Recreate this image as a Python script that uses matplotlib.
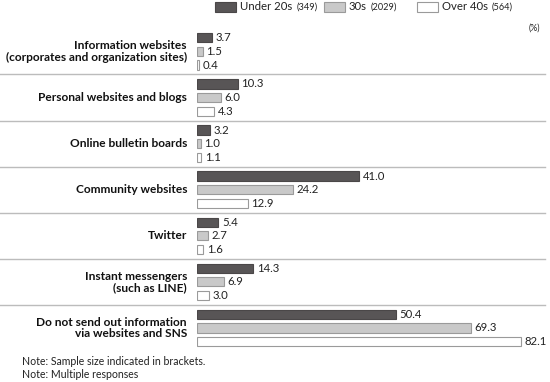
import matplotlib
matplotlib.use("Agg")
import matplotlib.pyplot as plt
from matplotlib.patches import Rectangle
from matplotlib.lines import Line2D

categories = [
    "Information websites\n(corporates and organization sites)",
    "Personal websites and blogs",
    "Online bulletin boards",
    "Community websites",
    "Twitter",
    "Instant messengers\n(such as LINE)",
    "Do not send out information\nvia websites and SNS",
]
series_names = ["Under 20s", "30s", "Over 40s"]
series_n = ["(349)", "(2029)", "(564)"]
under20 = [3.7, 10.3, 3.2, 41.0, 5.4, 14.3, 50.4]
thirties = [1.5, 6.0, 1.0, 24.2, 2.7, 6.9, 69.3]
over40 = [0.4, 4.3, 1.1, 12.9, 1.6, 3.0, 82.1]
notes = ["Note: Sample size indicated in brackets.", "Note: Multiple responses"]

plt.rcParams['font.family'] = ['Lato', 'DejaVu Sans']

W, H = 550, 382
fig = plt.figure(figsize=(W / 100, H / 100), dpi=100)

x0 = 197
scale = 3.95
top_px, bot_px = 28.4, 351
ax = fig.add_axes([x0 / W, 1 - bot_px / H, 1 - x0 / W, (bot_px - top_px) / H])
ax.set_xlim(0, (W - x0) / scale)
n = len(categories)
ax.set_ylim(n, 0)
ax.axis('off')

faces = ['#585556', '#c9c9c9', '#ffffff']
edges = ['#4a4748', '#9a9a9a', '#9a9a9a']
data = [under20, thirties, over40]
offsets = [0.205, 0.5, 0.795]
bh = 0.2

for s, vals in enumerate(data):
    ys = [i + offsets[s] for i in range(n)]
    ax.barh(ys, vals, height=bh, color=faces[s], edgecolor=edges[s], linewidth=0.8)
    for y, v in zip(ys, vals):
        ax.text(v + 0.9, y, f"{v:.1f}", va='center', ha='left', fontsize=8.2, color='#222222')

for i, cat in enumerate(categories):
    fig.text(187 / W, 1 - (top_px + (i + 0.5) * (bot_px - top_px) / n) / H, cat,
             ha='right', va='center', fontsize=8.6, fontweight='bold', linespacing=1.05,
             color='#111111')

for i in range(1, n):
    ypx = top_px + i * (bot_px - top_px) / n
    fig.add_artist(Line2D([0, 545 / W], [1 - ypx / H, 1 - ypx / H],
                          transform=fig.transFigure, color='#bcbcbc', linewidth=1.0))

# legend
leg_x = [215, 324, 417]
for s in range(3):
    fig.add_artist(Rectangle((leg_x[s] / W, 1 - 11.7 / H), 20.5 / W, 10 / H,
                             transform=fig.transFigure, facecolor=faces[s],
                             edgecolor=edges[s], linewidth=0.8))
    t = fig.text((leg_x[s] + 25) / W, 1 - 7 / H, series_names[s], ha='left', va='center',
                 fontsize=8.2, color='#222222')
    fig.canvas.draw()
    bb = t.get_window_extent()
    fig.text((bb.x1 + 4) / W, 1 - 7.5 / H, series_n[s], ha='left', va='center',
             fontsize=6.6, color='#222222')

fig.text(540 / W, 1 - 28 / H, "(%)", ha='right', va='center', fontsize=6.3, color='#222222')

fig.text(22 / W, 1 - 361.5 / H, notes[0], ha='left', va='center', fontsize=7.6, color='#222222')
fig.text(22 / W, 1 - 374.5 / H, notes[1], ha='left', va='center', fontsize=7.6, color='#222222')

fig.savefig("out.png", dpi=100)
